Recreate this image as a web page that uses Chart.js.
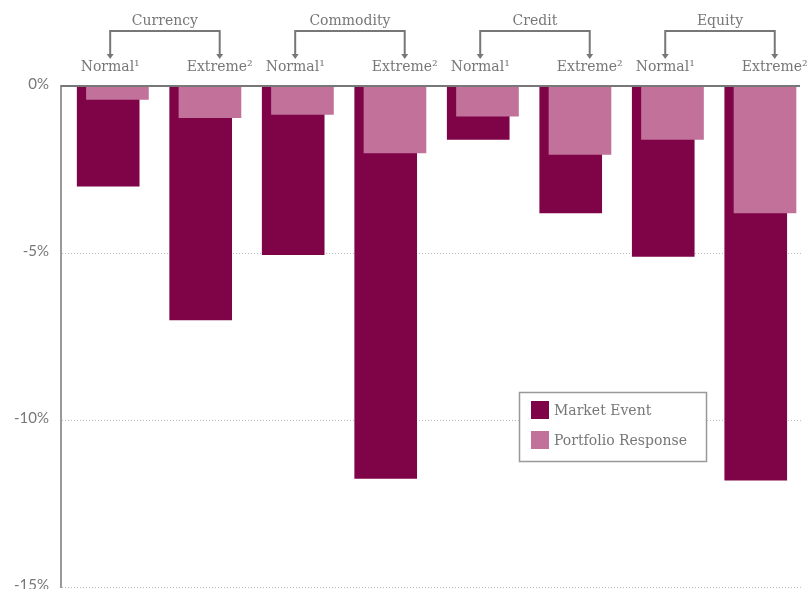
<!DOCTYPE html>
<html>
<head>
<meta charset="utf-8">
<script src="https://cdn.jsdelivr.net/npm/chart.js@4"></script>
<style>
  html, body { margin: 0; padding: 0; background: #fff; overflow: hidden; }
  canvas { display: block; }
</style>
</head>
<body>
<canvas id="riskCanvas" width="808" height="589"></canvas>
<script>
const groups = ['Currency', 'Commodity', 'Credit', 'Equity'];
const scenarios = ['Normal¹', 'Extreme²'];
const marketEvent = [-3.0, -7.0, -5.05, -11.75, -1.6, -3.8, -5.1, -11.8];
const portfolioResponse = [-0.4, -0.95, -0.85, -2.0, -0.9, -2.05, -1.6, -3.8];
const yTicks = [0, -5, -10, -15];

const darkColor = '#7f0347';
const lightColor = '#c1719a';
const textGray = '#777';
const serif = '"DejaVu Serif", serif';

// light bars sit a little to the right of the dark ones
const lightShift = 0.1;

const topLabels = {
  id: 'topLabels',
  afterDraw(chart) {
    const { ctx, scales: { x } } = chart;
    ctx.save();
    ctx.fillStyle = textGray;
    ctx.strokeStyle = textGray;
    ctx.lineWidth = 2;
    ctx.textAlign = 'center';
    ctx.font = '14px ' + serif;
    groups.forEach((g, gi) => {
      const left = x.getPixelForValue(gi * 2) + 2;
      const right = x.getPixelForValue(gi * 2 + 1) + 19;
      // bracket
      ctx.beginPath();
      ctx.moveTo(left, 55);
      ctx.lineTo(left, 31);
      ctx.lineTo(right, 31);
      ctx.lineTo(right, 55);
      ctx.stroke();
      [left, right].forEach(px => {
        ctx.beginPath();
        ctx.moveTo(px - 3.5, 54);
        ctx.lineTo(px + 3.5, 54);
        ctx.lineTo(px, 59);
        ctx.closePath();
        ctx.fill();
      });
      ctx.fillText(g, (left + right) / 2, 25);
      ctx.fillText(scenarios[0], left, 71);
      ctx.fillText(scenarios[1], right, 71);
    });
    ctx.restore();
  }
};

const zeroLine = {
  id: 'zeroLine',
  afterDatasetsDraw(chart) {
    const { ctx, chartArea, scales: { y } } = chart;
    const py = y.getPixelForValue(0);
    ctx.save();
    ctx.strokeStyle = '#777';
    ctx.lineWidth = 2;
    ctx.beginPath();
    ctx.moveTo(chartArea.left, py);
    ctx.lineTo(chartArea.right - 2, py);
    ctx.stroke();
    ctx.restore();
  }
};

const boxLegend = {
  id: 'boxLegend',
  afterDraw(chart) {
    const { ctx } = chart;
    const bx = 519.5, by = 392.5, bw = 187, bh = 69;
    ctx.save();
    ctx.fillStyle = '#fff';
    ctx.fillRect(bx, by, bw, bh);
    ctx.strokeStyle = '#999';
    ctx.lineWidth = 1.5;
    ctx.strokeRect(bx, by, bw, bh);
    ctx.font = '14px ' + serif;
    ctx.textBaseline = 'middle';
    ctx.textAlign = 'left';
    const items = [chart.data.datasets[0], chart.data.datasets[1]];
    items.forEach((ds, i) => {
      const cy = 410 + i * 30;
      ctx.fillStyle = ds.backgroundColor;
      ctx.fillRect(531, cy - 9, 18, 18);
      ctx.fillStyle = textGray;
      ctx.fillText(ds.label, 554, cy + 1);
    });
    ctx.restore();
  }
};

const ctx = document.getElementById('riskCanvas').getContext('2d');

new Chart(ctx, {
  type: 'bar',
  data: {
    datasets: [{
      label: 'Market Event',
      data: marketEvent.map((v, i) => ({ x: i, y: v })),
      backgroundColor: darkColor,
      order: 2,
    }, {
      label: 'Portfolio Response',
      data: portfolioResponse.map((v, i) => ({ x: i + lightShift, y: v })),
      backgroundColor: lightColor,
      order: 1,
    }]
  },
  options: {
    responsive: false,
    animation: false,
    grouped: false,
    barThickness: 62,
    layout: { padding: { top: 86, right: 6, bottom: 2, left: 0 } },
    scales: {
      x: {
        type: 'linear',
        min: -0.51,
        max: 7.5,
        offset: false,
        grid: { offset: false },
        display: false,
      },
      y: {
        min: -15,
        max: 0,
        afterFit(scale) {
          scale.width = 61;
          scale.paddingTop = 0;
          scale.paddingBottom = 0;
        },
        afterBuildTicks(scale) { scale.ticks = yTicks.map(v => ({ value: v })); },
        ticks: {
          padding: 12,
          labelOffset: -2,
          color: textGray,
          font: { family: 'Lato, sans-serif', size: 15 },
          callback: v => v + '%'
        },
        grid: {
          drawTicks: false,
          color: c => c.tick && c.tick.value === 0 ? 'rgba(0,0,0,0)' : '#bbb',
          lineWidth: 1,
        },
        border: { display: true, color: '#999', width: 2, dash: [1, 2] }
      }
    },
    plugins: {
      legend: { display: false },
      tooltip: { enabled: false }
    }
  },
  plugins: [zeroLine, topLabels, boxLegend]
});
</script>
</body>
</html>
